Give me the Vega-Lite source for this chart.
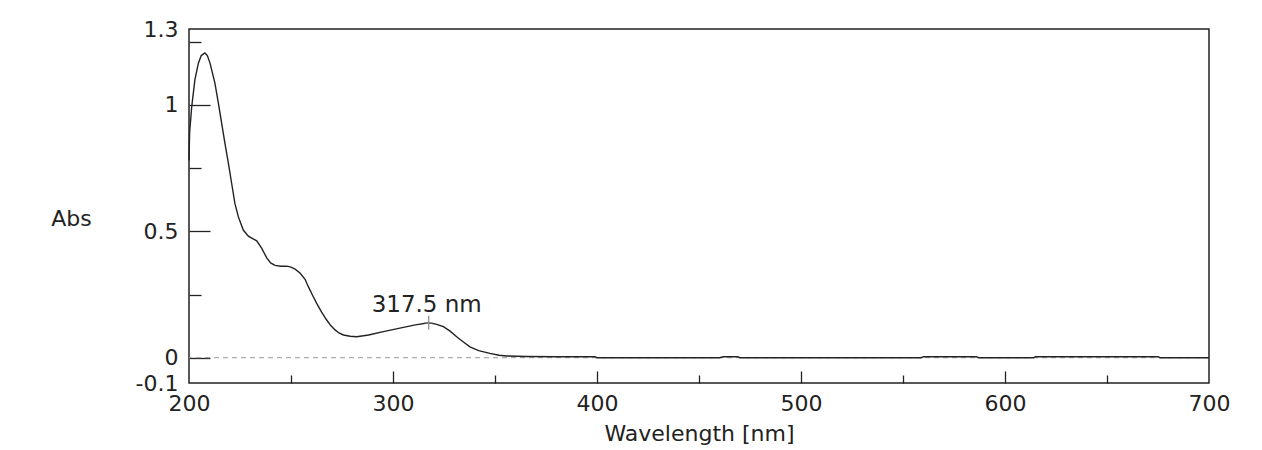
{
  "$schema": "https://vega.github.io/schema/vega-lite/v6.json",
  "width": 1020,
  "height": 354,
  "autosize": {"type": "none"},
  "padding": {"left": 189, "top": 29, "right": 53, "bottom": 67},
  "background": "white",
  "config": {
    "view": {"stroke": "#222", "strokeWidth": 1.5},
    "axis": {
      "labelFont": "DejaVu Sans",
      "titleFont": "DejaVu Sans",
      "labelFontSize": 22,
      "titleFontSize": 22,
      "labelColor": "#222",
      "titleColor": "#222",
      "titleFontWeight": "normal",
      "grid": false,
      "domain": false,
      "tickColor": "#222",
      "tickWidth": 1.3
    }
  },
  "datasets": {
    "spectrum": [
      {"wl": 200, "abs": 0.78},
      {"wl": 200.3, "abs": 0.89},
      {"wl": 201.3, "abs": 0.99},
      {"wl": 202.9, "abs": 1.10},
      {"wl": 204.6, "abs": 1.165},
      {"wl": 206, "abs": 1.195},
      {"wl": 207.8, "abs": 1.205},
      {"wl": 209, "abs": 1.195},
      {"wl": 210.3, "abs": 1.165},
      {"wl": 212.7, "abs": 1.086},
      {"wl": 214.4, "abs": 1.007},
      {"wl": 216, "abs": 0.928},
      {"wl": 217.6, "abs": 0.849},
      {"wl": 219.3, "abs": 0.77},
      {"wl": 220.9, "abs": 0.69},
      {"wl": 222.5, "abs": 0.61},
      {"wl": 224.2, "abs": 0.557},
      {"wl": 226.6, "abs": 0.505},
      {"wl": 229.1, "abs": 0.481},
      {"wl": 231, "abs": 0.472},
      {"wl": 233.2, "abs": 0.462},
      {"wl": 235.6, "abs": 0.433},
      {"wl": 238.1, "abs": 0.395},
      {"wl": 240, "abs": 0.375},
      {"wl": 242.2, "abs": 0.365},
      {"wl": 245, "abs": 0.362},
      {"wl": 247.9, "abs": 0.362},
      {"wl": 250, "abs": 0.358},
      {"wl": 252, "abs": 0.35},
      {"wl": 254.4, "abs": 0.335},
      {"wl": 256.9, "abs": 0.31},
      {"wl": 258.5, "abs": 0.281},
      {"wl": 260.5, "abs": 0.248},
      {"wl": 262.6, "abs": 0.215},
      {"wl": 265, "abs": 0.18},
      {"wl": 267.5, "abs": 0.149},
      {"wl": 269.5, "abs": 0.127},
      {"wl": 271.6, "abs": 0.11},
      {"wl": 273.5, "abs": 0.098},
      {"wl": 275.7, "abs": 0.09},
      {"wl": 279, "abs": 0.085},
      {"wl": 282.2, "abs": 0.083},
      {"wl": 288, "abs": 0.09},
      {"wl": 295.3, "abs": 0.103},
      {"wl": 305.1, "abs": 0.12},
      {"wl": 311, "abs": 0.13},
      {"wl": 317.5, "abs": 0.138},
      {"wl": 321, "abs": 0.133},
      {"wl": 324.7, "abs": 0.123},
      {"wl": 328, "abs": 0.105},
      {"wl": 331.2, "abs": 0.083},
      {"wl": 334.5, "abs": 0.062},
      {"wl": 337.7, "abs": 0.043},
      {"wl": 342, "abs": 0.028},
      {"wl": 347.5, "abs": 0.017},
      {"wl": 352, "abs": 0.01},
      {"wl": 355.7, "abs": 0.007},
      {"wl": 365, "abs": 0.005},
      {"wl": 380, "abs": 0.004},
      {"wl": 399, "abs": 0.004},
      {"wl": 400, "abs": 0},
      {"wl": 460, "abs": 0},
      {"wl": 462, "abs": 0.004},
      {"wl": 469, "abs": 0.004},
      {"wl": 470, "abs": 0},
      {"wl": 559, "abs": 0},
      {"wl": 560, "abs": 0.004},
      {"wl": 586, "abs": 0.004},
      {"wl": 587, "abs": 0},
      {"wl": 614, "abs": 0},
      {"wl": 615, "abs": 0.004},
      {"wl": 675, "abs": 0.004},
      {"wl": 676, "abs": 0},
      {"wl": 700, "abs": 0}
    ],
    "baseline": [{"z": 0}],
    "peak": [{"wl": 317.5, "abs": 0.138, "label": "317.5 nm"}]
  },
  "layer": [
    {
      "data": {"name": "baseline"},
      "mark": {"type": "rule", "color": "#9a9a9a", "strokeWidth": 1, "strokeDash": [5, 4]},
      "encoding": {
        "y": {
          "field": "z", "type": "quantitative",
          "scale": {"domain": [-0.1, 1.3], "nice": false, "zero": false},
          "axis": {"orient": "left", "values": [0, 0.5, 1], "tickSize": -21, "labels": false, "title": null}
        }
      }
    },
    {
      "data": {"name": "spectrum"},
      "mark": {"type": "line", "color": "#222", "strokeWidth": 1.4},
      "encoding": {
        "x": {
          "field": "wl", "type": "quantitative",
          "scale": {"domain": [200, 700], "nice": false, "zero": false},
          "axis": {
            "orient": "bottom", "values": [200, 300, 400, 500, 600, 700], "ticks": false,
            "labelPadding": 10, "labelFlush": false, "title": "Wavelength [nm]",
            "titleY": 50, "titleBaseline": "middle"
          }
        },
        "y": {
          "field": "abs", "type": "quantitative",
          "scale": {"domain": [-0.1, 1.3], "nice": false, "zero": false},
          "axis": {
            "orient": "left", "values": [-0.1, 0, 0.5, 1, 1.3], "ticks": false,
            "labelPadding": 11, "labelFlush": false, "labelExpr": "'' + datum.value",
            "title": "Abs", "titleAngle": 0, "titleX": -118, "titleY": 189,
            "titleAlign": "center", "titleBaseline": "middle"
          }
        }
      }
    },
    {
      "data": {"name": "peak"},
      "mark": {"type": "point", "shape": "M0,-1L0,1M-0.6,0L0.6,0", "size": 196, "filled": false, "stroke": "#888", "strokeWidth": 1.2, "opacity": 1},
      "encoding": {
        "x": {
          "field": "wl", "type": "quantitative",
          "scale": {"domain": [200, 700], "nice": false, "zero": false},
          "axis": {"orient": "bottom", "values": [250, 350, 450, 550, 650], "tickSize": -8, "labels": false, "title": null}
        },
        "y": {
          "field": "abs", "type": "quantitative",
          "scale": {"domain": [-0.1, 1.3], "nice": false, "zero": false},
          "axis": {"orient": "left", "values": [0.25, 0.75, 1.25], "tickSize": -12, "labels": false, "title": null}
        }
      }
    },
    {
      "data": {"name": "peak"},
      "mark": {"type": "text", "font": "DejaVu Sans", "fontSize": 23, "color": "#222", "align": "center", "baseline": "alphabetic", "dy": -11, "dx": -2},
      "encoding": {
        "x": {
          "field": "wl", "type": "quantitative",
          "scale": {"domain": [200, 700], "nice": false, "zero": false},
          "axis": {"orient": "bottom", "values": [300, 400, 500, 600], "tickSize": -12, "labels": false, "title": null}
        },
        "y": {
          "field": "abs", "type": "quantitative",
          "scale": {"domain": [-0.1, 1.3], "nice": false, "zero": false},
          "axis": null
        },
        "text": {"field": "label"}
      }
    }
  ],
  "resolve": {"axis": {"x": "independent", "y": "independent"}}
}
